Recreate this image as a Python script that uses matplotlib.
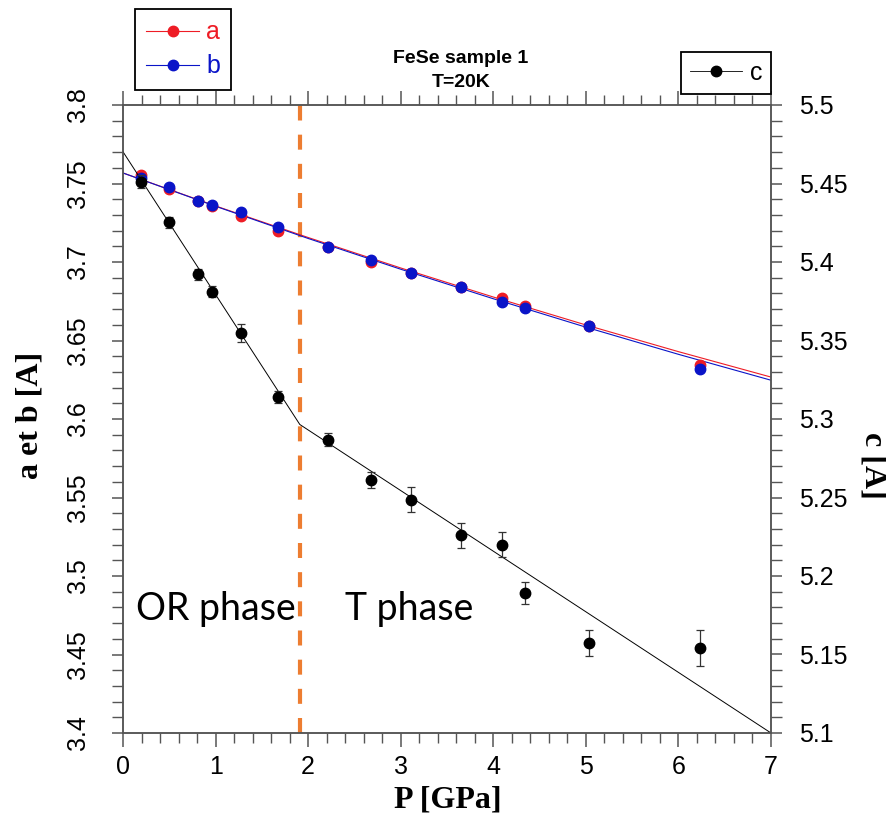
import matplotlib
matplotlib.use('Agg')
import matplotlib.pyplot as plt
from matplotlib.ticker import MultipleLocator, FuncFormatter
from matplotlib.lines import Line2D

# ---------------- data ----------------
P = [0.19, 0.50, 0.81, 0.96, 1.27, 1.67, 2.21, 2.68, 3.11, 3.65, 4.09, 4.34, 5.03, 6.23]
a = [3.7554, 3.7463, 3.7386, 3.7355, 3.7293, 3.7199, 3.7093, 3.6999, 3.6927, 3.6838,
     3.6772, 3.6719, 3.6593, 3.6343]
b = [3.7533, 3.7475, 3.7388, 3.7363, 3.7320, 3.7220, 3.7097, 3.7012, 3.6927, 3.6838,
     3.6746, 3.6704, 3.6593, 3.6317]
c = [5.4511, 5.4252, 5.3921, 5.3810, 5.3549, 5.3139, 5.2869, 5.2610, 5.2487, 5.2260,
     5.2198, 5.1892, 5.1573, 5.1541]
c_err = [0.004, 0.0035, 0.0037, 0.0036, 0.0056, 0.004, 0.004, 0.005, 0.008, 0.008,
         0.008, 0.007, 0.008, 0.0117]

# fitted curves
fit_ab_P = [0, 1, 2, 3, 4, 5, 6, 7]
fit_a = [3.7567, 3.7357, 3.7156, 3.6962, 3.6777, 3.6599, 3.6429, 3.6267]
fit_b = [3.7567, 3.7355, 3.7150, 3.6954, 3.6766, 3.6585, 3.6412, 3.6247]
fit_c_P = [0.0, 1.91, 7.0]
fit_c = [5.4702, 5.2965, 5.1]
P_transition = 1.91

x_ticks = [0, 1, 2, 3, 4, 5, 6, 7]
ab_ticks = [3.4, 3.45, 3.5, 3.55, 3.6, 3.65, 3.7, 3.75, 3.8]
c_ticks = [5.1, 5.15, 5.2, 5.25, 5.3, 5.35, 5.4, 5.45, 5.5]

# ---------------- style ----------------
plt.rcParams['font.family'] = ['Liberation Sans', 'DejaVu Sans']
SPINE = '#555555'
RED = '#ee1c25'
BLUE = '#0a14c8'

fig = plt.figure(figsize=(8.87, 8.27), dpi=100)
ax = fig.add_axes([123 / 887, 1 - 733 / 827, 648 / 887, 628 / 827])
ax2 = ax.twinx()

ax.set_xlim(0, 7)
ax.set_ylim(3.4, 3.8)
ax2.set_ylim(5.1, 5.5)

fmt = FuncFormatter(lambda v, p: f'{round(v, 3):g}')

ax.set_xticks(x_ticks)
ax.xaxis.set_minor_locator(MultipleLocator(0.2))
ax.set_yticks(ab_ticks)
ax.yaxis.set_minor_locator(MultipleLocator(0.01))
ax.yaxis.set_major_formatter(fmt)
ax2.set_yticks(c_ticks)
ax2.yaxis.set_minor_locator(MultipleLocator(0.01))
ax2.yaxis.set_major_formatter(fmt)

for s in ax.spines.values():
    s.set_color(SPINE)
    s.set_linewidth(1.1)
for s in ax2.spines.values():
    s.set_color(SPINE)
    s.set_linewidth(1.1)

ax.tick_params(axis='x', which='both', direction='out', top=True, bottom=True,
               color=SPINE, labelsize=18, pad=6)
ax.tick_params(axis='x', which='major', length=10, width=1.1)
ax.tick_params(axis='x', which='minor', length=7, width=1.0)
ax.tick_params(axis='y', which='both', direction='out', color=SPINE, labelsize=18, pad=16)
ax.tick_params(axis='y', which='major', length=8, width=1.1)
ax.tick_params(axis='y', which='minor', length=8, width=1.0)
ax2.tick_params(axis='y', which='both', direction='out', color=SPINE, labelsize=18, pad=12)
ax2.tick_params(axis='y', which='major', length=8, width=1.1)
ax2.tick_params(axis='y', which='minor', length=8, width=1.0)

for lbl in ax.get_yticklabels():
    lbl.set_rotation(90)
    lbl.set_va('center')

# ---------------- data marks ----------------
ax.plot(fit_ab_P, fit_a, color=RED, lw=0.8, zorder=2)
ax.plot(fit_ab_P, fit_b, color=BLUE, lw=0.8, zorder=2)
ax.plot(P, a, 'o', color=RED, ms=7.5, zorder=3)
ax.plot(P, b, 'o', color=BLUE, ms=7.5, zorder=4)

ax2.plot(fit_c_P, fit_c, color='black', lw=0.7, zorder=2)
ax2.errorbar(P, c, yerr=c_err, fmt='o', color='black', ms=7.5, ecolor='#333333',
             elinewidth=0.9, capsize=3.2, capthick=0.9, zorder=5)

ax.axvline(P_transition, color='#ED7D31', lw=3, linestyle=(0, (3.6, 3.4)), zorder=1)

ax.text(0.14, 3.4718, 'OR phase', fontfamily='Lato', fontsize=27, va='baseline', ha='left')
ax.text(2.394, 3.4718, 'T phase', fontfamily='Lato', fontsize=27, va='baseline', ha='left')

# ---------------- titles / labels ----------------
fig.text(461 / 887, 1 - 63 / 827, 'FeSe sample 1', fontsize=14, fontweight='bold',
         ha='center', va='baseline')
fig.text(461 / 887, 1 - 87 / 827, 'T=20K', fontsize=14, fontweight='bold',
         ha='center', va='baseline')

fig.text(30 / 887, 1 - 415 / 827, 'a et b [A]', fontfamily='Liberation Serif',
         fontweight='bold', fontsize=23, rotation=90, ha='center', va='center')
fig.text(873 / 887, 1 - 465 / 827, 'c [A]', fontfamily='Liberation Serif',
         fontweight='bold', fontsize=23, rotation=270, ha='center', va='center')
fig.text(448 / 887, 1 - 800 / 827, 'P [GPa]', fontfamily='Liberation Serif',
         fontweight='bold', fontsize=23, ha='center', va='center')

# ---------------- legends ----------------
h_a = Line2D([], [], color=RED, lw=0.8, marker='o', ms=7.5)
h_b = Line2D([], [], color=BLUE, lw=0.8, marker='o', ms=7.5)
leg1 = fig.legend([h_a, h_b], ['a', 'b'], loc='upper left',
                  bbox_to_anchor=(135 / 887, 1 - 9 / 827), borderaxespad=0,
                  fancybox=False, edgecolor='black', framealpha=1, fontsize=18,
                  handlelength=2.1, handletextpad=0.3, labelspacing=0.4,
                  borderpad=0.45, labelcolor=[RED, BLUE])
leg1.get_frame().set_linewidth(1.3)

h_c = Line2D([], [], color='black', lw=0.6, marker='o', ms=7.5)
leg2 = fig.legend([h_c], ['c'], loc='upper left',
                  bbox_to_anchor=(681 / 887, 1 - 52 / 827), borderaxespad=0,
                  fancybox=False, edgecolor='black', framealpha=1, fontsize=18,
                  handlelength=2.1, handletextpad=0.3, borderpad=0.35)
leg2.get_frame().set_linewidth(1.3)

fig.savefig('out.png', dpi=100)
